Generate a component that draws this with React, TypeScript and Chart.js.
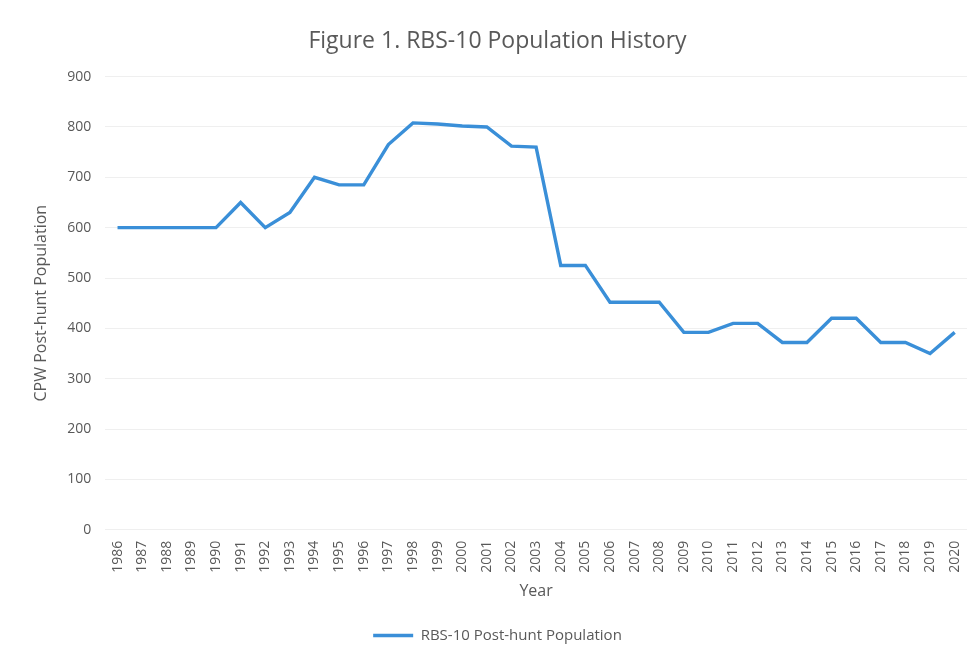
import React, { useEffect, useRef } from "react";
import { Chart, registerables } from "chart.js";

Chart.register(...registerables);

const years: string[] = [
  "1986", "1987", "1988", "1989", "1990", "1991", "1992", "1993", "1994", "1995",
  "1996", "1997", "1998", "1999", "2000", "2001", "2002", "2003", "2004", "2005",
  "2006", "2007", "2008", "2009", "2010", "2011", "2012", "2013", "2014", "2015",
  "2016", "2017", "2018", "2019", "2020",
];

const population: number[] = [
  600, 600, 600, 600, 600, 650, 600, 630, 700, 685,
  685, 765, 808, 806, 802, 800, 762, 760, 525, 525,
  452, 452, 452, 392, 392, 410, 410, 372, 372, 420,
  420, 372, 372, 350, 392,
];

const seriesLabel = "RBS-10 Post-hunt Population";
const titleText = "Figure 1. RBS-10 Population History";
const yTitle = "CPW Post-hunt Population";
const xTitle = "Year";

export default function App() {
  const ref = useRef<HTMLCanvasElement>(null);
  useEffect(() => {
    document.body.style.margin = "0";
    const ctx = ref.current!;
    const textColor = "#595959";
    const font = "'Open Sans', 'Liberation Sans', sans-serif";
    const chart = new Chart(ctx, {
      type: "line",
      data: {
        labels: years,
        datasets: [
          {
            label: seriesLabel,
            data: population,
            borderColor: "#3a8fd8",
            backgroundColor: "#3a8fd8",
            borderWidth: 3.4,
            pointRadius: 0,
            tension: 0,
          },
        ],
      },
      options: {
        animation: false,
        responsive: false,
        maintainAspectRatio: false,
        layout: { padding: { left: 28, right: 10, top: 25, bottom: 7 } },
        plugins: {
          title: {
            display: true,
            text: titleText,
            color: textColor,
            font: { family: font, size: 23, weight: "normal" },
            padding: { top: 3, bottom: 21 },
          },
          legend: {
            position: "bottom",
            labels: {
              usePointStyle: true,
              pointStyle: "line",
              pointStyleWidth: 40,
              color: textColor,
              font: { family: font, size: 15 },
              padding: 9,
            },
          },
          tooltip: { enabled: false },
        },
        scales: {
          x: {
            offset: true,
            grid: { display: false },
            border: { display: false },
            ticks: {
              color: textColor,
              font: { family: font, size: 14 },
              minRotation: 90,
              maxRotation: 90,
              autoSkip: false,
              padding: 3,
            },
            title: {
              display: true,
              text: xTitle,
              color: textColor,
              font: { family: font, size: 16 },
              padding: { top: 6, bottom: 18 },
            },
          },
          y: {
            min: 0,
            max: 900,
            grid: { color: "#efefef", drawTicks: false },
            border: { display: false },
            ticks: {
              stepSize: 100,
              color: textColor,
              font: { family: font, size: 14 },
              padding: 14,
            },
            title: {
              display: true,
              text: yTitle,
              color: textColor,
              font: { family: font, size: 16 },
              padding: { bottom: 2 },
            },
          },
        },
      },
    });
    return () => chart.destroy();
  }, []);
  return (
    <div style={{ width: 977, height: 660, background: "#fff" }}>
      <canvas ref={ref} width={977} height={660} />
    </div>
  );
}
